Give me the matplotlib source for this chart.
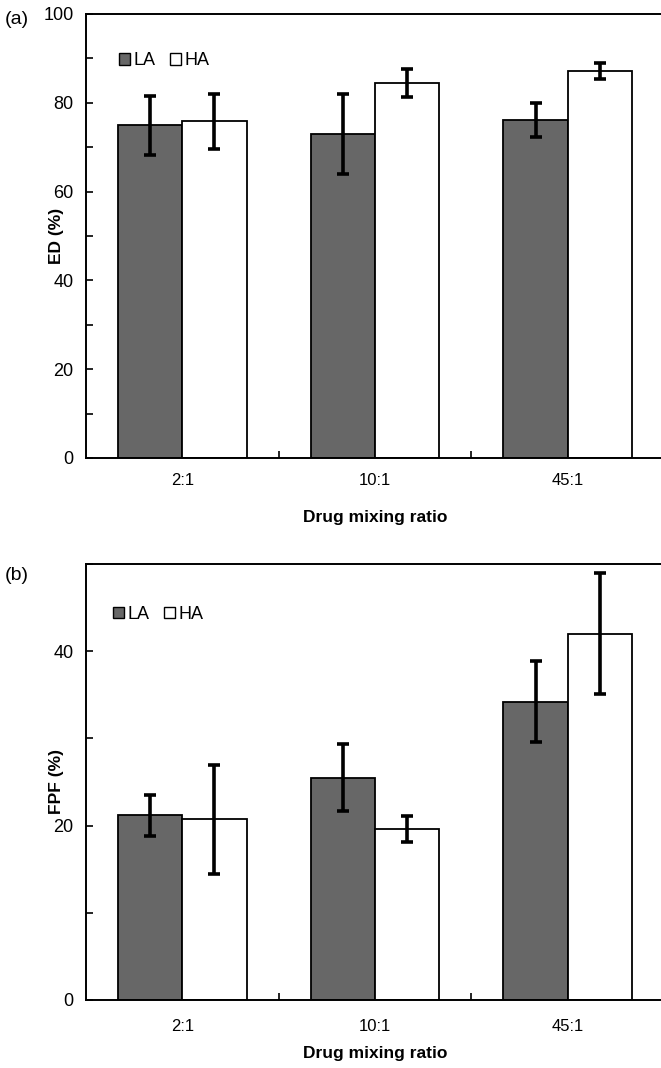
import matplotlib
matplotlib.use("Agg")
import matplotlib.pyplot as plt
from matplotlib.patches import Patch
from matplotlib.ticker import MultipleLocator, FixedLocator
import numpy as np

plt.rcParams['font.family'] = ['Liberation Sans', 'DejaVu Sans']

categories = ["2:1", "10:1", "45:1"]
series = ["LA", "HA"]

ed_la = [74.9, 73.0, 76.1]
ed_la_err = [6.7, 9.0, 3.9]
ed_ha = [75.8, 84.4, 87.2]
ed_ha_err = [6.2, 3.2, 1.8]

fpf_la = [21.2, 25.5, 34.2]
fpf_la_err = [2.35, 3.85, 4.65]
fpf_ha = [20.7, 19.6, 42.0]
fpf_ha_err = [6.25, 1.5, 6.95]

ed_ticks = [0, 20, 40, 60, 80, 100]
fpf_ticks = [0, 20, 40]

W, H = 661, 1068
fig = plt.figure(figsize=(W / 100, H / 100), dpi=100)

dark = "#676767"
bw = 1 / 3


def panel(ax, la, la_err, ha, ha_err, ymax, major, minor_step, ylabel,
          leg_anchor, xlab_y, tick_pad):
    x = np.arange(len(categories))
    ax.bar(x - bw / 2, la, width=bw, color=dark, edgecolor="black",
           linewidth=1.3, zorder=2)
    ax.bar(x + bw / 2, ha, width=bw, color="white", edgecolor="black",
           linewidth=1.3, zorder=2)
    ax.errorbar(x - bw / 2, la, yerr=la_err, fmt="none", ecolor="black",
                elinewidth=2.6, capsize=4.5, capthick=2.6, zorder=3)
    ax.errorbar(x + bw / 2, ha, yerr=ha_err, fmt="none", ecolor="black",
                elinewidth=2.6, capsize=4.5, capthick=2.6, zorder=3)
    ax.set_xlim(-0.5, len(categories) - 0.5)
    ax.set_ylim(0, ymax)
    ax.yaxis.set_major_locator(FixedLocator(major))
    ax.yaxis.set_minor_locator(MultipleLocator(minor_step))
    ax.set_xticks(x)
    ax.set_xticklabels(categories, fontsize=12)
    ax.set_xticks(np.arange(len(categories) - 1) + 0.5, minor=True)
    ax.tick_params(axis="x", which="major", length=0, pad=tick_pad)
    ax.tick_params(axis="x", which="minor", direction="in", length=5,
                   width=1.2)
    ax.tick_params(axis="y", which="both", direction="in", length=5,
                   width=1.2, labelsize=13, pad=9)
    for s in ["left", "bottom", "top", "right"]:
        ax.spines[s].set_linewidth(1.4)
    ax.set_ylabel(ylabel, fontsize=12.5, fontweight="bold")
    ax.yaxis.set_label_coords(-0.038, 0.5)
    ax.set_xlabel("Drug mixing ratio", fontsize=12.5, fontweight="bold")
    ax.xaxis.set_label_coords(0.5, xlab_y)
    handles = [Patch(facecolor=dark, edgecolor="black", linewidth=1.0),
               Patch(facecolor="white", edgecolor="black", linewidth=1.0)]
    ax.legend(handles, series, loc="upper left", bbox_to_anchor=leg_anchor,
              ncol=2, frameon=False, fontsize=13, handlelength=0.6,
              handleheight=0.6, handletextpad=0.2, columnspacing=0.8,
              borderaxespad=0)


left = 86 / W
width = (664 - 86) / W

ax1 = fig.add_axes([left, 1 - 458 / H, width, (458 - 14) / H])
panel(ax1, ed_la, ed_la_err, ed_ha, ed_ha_err, 100, ed_ticks, 10,
      "ED (%)", (0.045, 0.93), -0.117, 11)

ax2 = fig.add_axes([left, 1 - 1000 / H, width, (1000 - 564) / H])
panel(ax2, fpf_la, fpf_la_err, fpf_ha, fpf_ha_err, 50, fpf_ticks, 10,
      "FPF (%)", (0.035, 0.92), -0.106, 14)

fig.text(5 / W, 1 - 20 / H, "(a)", fontsize=14, va="center", ha="left")
fig.text(5 / W, 1 - 575 / H, "(b)", fontsize=14, va="center", ha="left")

fig.savefig("out.png", dpi=100)
